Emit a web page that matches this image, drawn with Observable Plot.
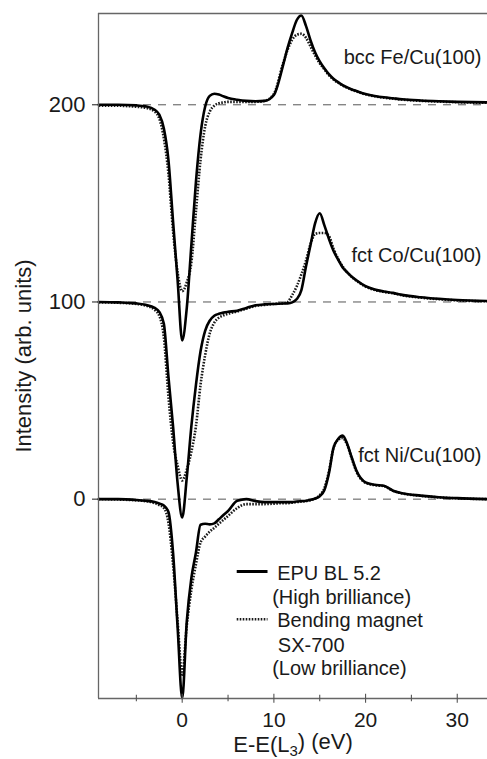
<!DOCTYPE html>
<html><head><meta charset="utf-8">
<script src="https://cdn.jsdelivr.net/npm/d3@7"></script>
<script src="https://cdn.jsdelivr.net/npm/@observablehq/plot@0.6"></script>
<style>
html,body{margin:0;padding:0;background:#fff}
#chart{width:487px;height:759px}
</style>
</head><body><div id="chart"></div>
<script>
// Energy grid E - E(L3), eV
const energy = [-9.1,-7,-5,-4,-3,-2.5,-2,-1.5,-1,-0.5,0,0.5,1,1.5,2,2.5,3,3.5,4,4.5,5,6,7,8,9,10,11,11.5,12,12.5,13,13.5,14,14.5,15,15.5,16,16.5,17,17.5,18,18.5,19,20,21,22,23,24,26,28,30,33.3];

// bcc Fe/Cu(100), offset 200
const feEPU = [200,200,199.7,199.2,197.5,195,188,172,141,111,80.5,97,129,161,185,199,204.5,205.6,205.2,204.3,203.5,202.6,202,201.8,202,205,220,229,236.5,243,245.3,240,232.6,226.5,222,218.5,215.5,213.2,211.5,210,208.8,207.8,207,205.5,204.5,203.8,203.3,202.8,202.2,201.8,201.5,201.2];
const feSX700 = [199.5,199.5,199,198.5,196.5,193,183,165,136,115,105.5,110,120,146,172,189,196.5,199.5,200.8,201.2,201.5,201.5,201.5,201.5,202,205.5,221,228,233,235.5,236,234,229.5,225,221,218,215,212.8,211.2,209.8,208.6,207.6,206.8,205.3,204.3,203.6,203.1,202.6,202,201.6,201.3,201];

// fct Co/Cu(100), offset 100
const coEPU = [100,99.8,99.3,98.6,97,95,89,62,37,8,-9.3,11,37,58,75,85.4,90.5,93,94,94.6,95,95.6,97,98.3,98.8,99,99.2,99.3,99.8,101.5,106,118,129,140,145,139,132,126,121.5,117.5,115,112.8,111,108,106.3,105.3,104.6,103.6,102.4,101.6,101,100.5];
const coSX700 = [99.8,99.6,99,98.2,96,93,82,52,29,17,9.5,15,24,37,58,73,84,89.5,92,93.2,94,95.2,96.6,98,98.5,99,99.2,100,103.5,108,114,121,129.5,134.5,135,135,133.5,127,122,118,115,112.6,110.8,107.8,106.1,105.1,104.4,103.4,102.2,101.4,100.8,100.3];

// fct Ni/Cu(100), offset 0
const niEPU = [0,0,-0.4,-0.8,-1.5,-2.2,-3.2,-6.5,-27,-65,-101,-62,-40,-27,-13,-12.5,-12.8,-12.3,-10.2,-8,-6,-0.8,0,-1,-1.5,-1.5,-1.5,-1.5,-1.5,-1.2,-1,-0.8,-0.3,0.3,1.5,4.5,13,26,30.5,32.2,28,21,14.5,8.5,7.3,6.8,4.3,3,1.8,1,0.5,0];
const niSX700 = [0,-0.2,-0.6,-1,-2,-3,-4.5,-12,-33,-62,-89,-64,-46,-33,-22,-19,-16.5,-14.5,-12.5,-10.5,-8.5,-4.5,-2.5,-2.5,-2.5,-2.3,-2,-2,-1.8,-1.5,-1.2,-1,-0.5,0.3,2,5.5,14,26,30,31,27.5,20.5,14,8.3,7.1,6.6,4.2,2.9,1.7,0.9,0.4,0];

const samples = ["bcc Fe/Cu(100)", "fct Co/Cu(100)", "fct Ni/Cu(100)"];
const baselines = [200, 100, 0];
const labelY = [224, 123.5, 22];
const yTicks = [0, 100, 200];
const xMajorTicks = [0, 10, 20, 30];
const xMinorTicks = [-5, 5, 15, 25];
const xDomain = [-9.13, 33.3];
const yDomain = [-101.1, 246.3];
const xLabel = "E-E(L3) (eV)";
const yLabel = "Intensity (arb. units)";

// legend
const legendLineX = [6.0, 9.36];
const legendSolidY = -36.7;
const legendDottedY = -60.9;
const legendText = [
  {x: 10.36, y: -37.9, text: "EPU BL 5.2"},
  {x: 9.81, y: -49.9, text: "(High brilliance)"},
  {x: 10.36, y: -61.8, text: "Bending magnet"},
  {x: 10.43, y: -74.5, text: "SX-700"},
  {x: 9.81, y: -86.1, text: "(Low brilliance)"}
];

const curves = [
  {sample: samples[0], source: "EPU", values: feEPU},
  {sample: samples[0], source: "SX700", values: feSX700},
  {sample: samples[1], source: "EPU", values: coEPU},
  {sample: samples[1], source: "SX700", values: coSX700},
  {sample: samples[2], source: "EPU", values: niEPU},
  {sample: samples[2], source: "SX700", values: niSX700}
];
const rows = curves.flatMap(c => c.values.map((v, i) => ({sample: c.sample, source: c.source, energy: energy[i], value: v})));
const labels = samples.map((s, i) => ({text: s, y: labelY[i]}));

const dotted = {stroke: "#1a1a1a", strokeWidth: 2.6, strokeDasharray: "1.6,1.4", strokeLinecap: "butt"};

const chart = Plot.plot({
  width: 487,
  height: 759,
  marginLeft: 98,
  marginRight: 0,
  marginTop: 13,
  marginBottom: 61,
  x: {domain: xDomain},
  y: {domain: yDomain},
  style: {fontFamily: "'Liberation Sans', Arial, sans-serif", fontSize: "20px", color: "#1a1a1a", background: "#fff", overflow: "visible"},
  marks: [
    Plot.ruleY(baselines, {stroke: "#555", strokeWidth: 1, strokeDasharray: "8,7"}),
    Plot.line(rows.filter(d => d.source === "SX700"), {x: "energy", y: "value", z: "sample", ...dotted, curve: "monotone-x"}),
    Plot.line(rows.filter(d => d.source === "EPU"), {x: "energy", y: "value", z: "sample", stroke: "#000", strokeWidth: 2.6, curve: "monotone-x"}),
    Plot.ruleX([xDomain[0]], {stroke: "#666", strokeWidth: 1.3}),
    Plot.ruleY([yDomain[0], yDomain[1]], {stroke: "#666", strokeWidth: 1.3}),
    Plot.axisY(yTicks, {tickSize: 6, tickPadding: 7, fontSize: 22, label: null}),
    Plot.axisX(xMajorTicks, {tickSize: 0, tickPadding: 14, fontSize: 21, label: null}),
    Plot.ruleX(xMajorTicks, {y1: yDomain[0] - 2.4, y2: yDomain[0] + 2.2, stroke: "#555", strokeWidth: 1.1}),
    Plot.ruleX(xMinorTicks, {y1: yDomain[0] - 1.7, y2: yDomain[0] + 1.7, stroke: "#555", strokeWidth: 1.1}),
    Plot.text(labels, {x: () => xDomain[1], y: "y", text: "text", textAnchor: "end", dx: -6, fontSize: 20}),
    Plot.ruleY([legendSolidY], {x1: legendLineX[0], x2: legendLineX[1], stroke: "#000", strokeWidth: 3}),
    Plot.ruleY([legendDottedY], {x1: legendLineX[0], x2: legendLineX[1], ...dotted}),
    Plot.text(legendText, {x: "x", y: "y", text: "text", textAnchor: "start", fontSize: 20}),
    Plot.text([xLabel], {frameAnchor: "bottom", lineAnchor: "middle", dy: 46, fontSize: 22}),
    Plot.text([yLabel], {frameAnchor: "left", textAnchor: "middle", lineAnchor: "middle", rotate: -90, dx: -75, fontSize: 22})
  ]
});
document.getElementById("chart").appendChild(chart);

// subscript in x label
chart.querySelectorAll("text").forEach(t => {
  if (t.textContent === xLabel) {
    t.textContent = "";
    const ns = "http://www.w3.org/2000/svg";
    const parts = [["E-E(L", null], ["3", "sub"], [") (eV)", "back"]];
    for (const [s, k] of parts) {
      const ts = document.createElementNS(ns, "tspan");
      ts.textContent = s;
      if (k === "sub") { ts.setAttribute("dy", "0.3em"); ts.setAttribute("font-size", "15"); }
      if (k === "back") { ts.setAttribute("dy", "-0.3em"); }
      t.appendChild(ts);
    }
  }
});
</script>
</body></html>
